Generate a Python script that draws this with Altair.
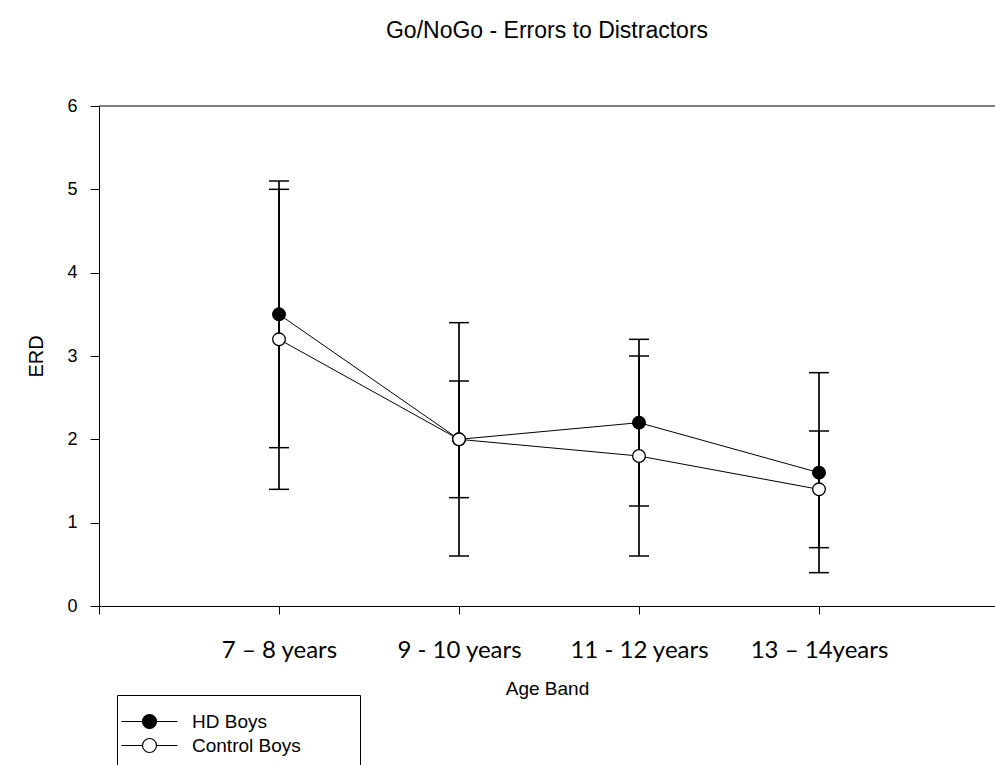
import json

import altair as alt
import pandas as pd

# Age bands on the x axis, in plotting order
age_bands = ["7 – 8 years", "9 - 10 years", "11 - 12 years", "13 – 14years"]
series_names = ["HD Boys", "Control Boys"]
series_fills = ["black", "white"]

# Mean errors to distractors (ERD) and error-bar half widths
hd_mean = [3.5, 2.0, 2.2, 1.6]
hd_err = [1.6, 1.4, 1.0, 1.2]
control_mean = [3.2, 2.0, 1.8, 1.4]
control_err = [1.8, 0.7, 1.2, 0.7]

y_ticks = [0, 1, 2, 3, 4, 5, 6]

rows = []
for name, means, errs in zip(series_names, [hd_mean, control_mean], [hd_err, control_err]):
    for i, (m, e) in enumerate(zip(means, errs)):
        rows.append({
            "group": name,
            "band": i,
            "mean": m,
            "lo": round(m - e, 3),
            "hi": round(m + e, 3),
        })
df = pd.DataFrame(rows)

FONT = "Liberation Sans"
PLOT_W, PLOT_H = 896, 500
STEP = 180.0  # pixels between age bands

x_scale = alt.Scale(domain=[-1, -1 + PLOT_W / STEP], nice=False, zero=False)
y_scale = alt.Scale(domain=[0, 6], nice=False, zero=False)

band_labels = json.dumps(age_bands, ensure_ascii=False)
x_axis = alt.Axis(
    values=[-1] + list(range(len(age_bands))),
    labelExpr=f"datum.value >= 0 ? {band_labels}[datum.value] : ''",
    title="Age Band",
    tickSize=8,
    labelPadding=24,
    labelFont="Lato",
    labelFontSize=24,
    labelBaseline="top",
    labelOverlap=False,
    labelFlush=False,
    titleFont=FONT,
    titleFontSize=19,
    titleFontWeight="normal",
    titlePadding=17,
    grid=False,
)
y_axis = alt.Axis(
    values=y_ticks,
    format="d",
    title="ERD",
    tickSize=9,
    labelPadding=13,
    labelFont=FONT,
    labelFontSize=18,
    titleFont=FONT,
    titleFontSize=20,
    titleFontWeight="normal",
    titlePadding=20,
    grid=False,
)

base = alt.Chart(df)

# connecting lines for each group
lines = base.mark_line(color="black", strokeWidth=1).encode(
    x=alt.X("band:Q", scale=x_scale, axis=x_axis),
    y=alt.Y("mean:Q", scale=y_scale, axis=y_axis),
    detail="group:N",
)

# vertical error bars with caps
bars = base.mark_rule(color="black", strokeWidth=1.7).encode(
    x=alt.X("band:Q", scale=x_scale),
    y=alt.Y("lo:Q", scale=y_scale),
    y2="hi:Q",
)
caps_lo = base.mark_tick(orient="horizontal", size=20, thickness=1.5,
                         color="black", opacity=1).encode(
    x=alt.X("band:Q", scale=x_scale),
    y=alt.Y("lo:Q", scale=y_scale),
)
caps_hi = base.mark_tick(orient="horizontal", size=20, thickness=1.5,
                         color="black", opacity=1).encode(
    x=alt.X("band:Q", scale=x_scale),
    y=alt.Y("hi:Q", scale=y_scale),
)

# legend symbol: short line with a circle in the middle
legend_symbol = "M-4,0L-1,0M1,0L4,0M-1,0A1,1,0,1,0,1,0A1,1,0,1,0,-1,0Z"

# trailing no-break spaces (kept by a zero-width end mark) widen the legend frame
legend_pad = "\u00a0" * 8 + "\u200b"

points = base.mark_point(shape="circle", filled=True, size=160, stroke="black",
                         strokeWidth=1.3, opacity=1).encode(
    x=alt.X("band:Q", scale=x_scale),
    y=alt.Y("mean:Q", scale=y_scale),
    fill=alt.Fill(
        "group:N",
        scale=alt.Scale(domain=series_names, range=series_fills),
        legend=alt.Legend(
            title=None,
            orient="none",
            legendX=18,
            legendY=589,
            padding=17,
            strokeColor="black",
            fillColor="white",
            symbolType=legend_symbol,
            symbolSize=196,
            symbolOffset=6,
            symbolStrokeColor="black",
            symbolStrokeWidth=1.2,
            labelOffset=33,
            labelFont=FONT,
            labelFontSize=19,
            labelColor="black",
            labelLimit=400,
            rowPadding=4,
            labelExpr=f"datum.label + '{legend_pad}'",
        ),
    ),
)

# upper frame line at the top of the value range
top_line = alt.Chart(pd.DataFrame({"top": [6]})).mark_rule(
    color="black", strokeWidth=1
).encode(y=alt.Y("top:Q", scale=y_scale))

chart = (
    alt.layer(top_line, lines, bars, caps_lo, caps_hi, points)
    .properties(
        width=PLOT_W,
        height=PLOT_H,
        autosize=alt.AutoSizeParams(type="none"),
        padding={"left": 99, "top": 106, "right": 0, "bottom": 159},
        background="white",
        title=alt.TitleParams(
            "Go/NoGo - Errors to Distractors",
            font=FONT,
            fontSize=23,
            fontWeight="normal",
            color="black",
            anchor="middle",
            frame="group",
            baseline="alphabetic",
            offset=36,
        ),
    )
    .configure_view(stroke=None)
    .configure_axis(
        domainColor="black",
        domainWidth=1,
        tickColor="black",
        tickWidth=1,
        labelColor="black",
        titleColor="black",
    )
)

chart.save("out.html", embed_options={"renderer": "svg", "actions": False})
